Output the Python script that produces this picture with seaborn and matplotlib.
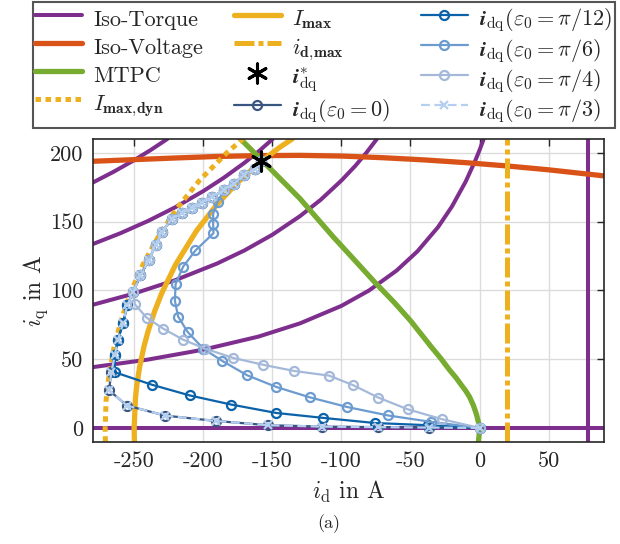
import numpy as np
import pandas as pd
import matplotlib
matplotlib.use('Agg')
import matplotlib.pyplot as plt
import seaborn as sns

# ---- data (id, iq in A) ----
# iso-torque curves
tq1_id = [-280, -240, -200, -160, -130, -100, -80, -60, -45, -30, -20, -10, -3, 0, 3]
tq1_iq = [44.2, 49.7, 56.9, 66.4, 76.0, 88.7, 99.9, 114.4, 128.3, 146.0, 160.9, 179.1, 194.5, 201.9, 210]
tq2_id = [-280, -250, -220, -190, -170, -150, -130, -115, -100, -90, -82, -74.3]
tq2_iq = [89.5, 97.7, 107.5, 119.5, 129.1, 140.4, 153.9, 165.8, 179.8, 190.4, 199.9, 210]
tq3_id = [-280, -260, -240, -220, -200, -185, -170, -160, -149.7]
tq3_iq = [133.6, 141.5, 150.4, 160.5, 172.1, 181.9, 192.8, 200.9, 210]
tq4_id = [-280, -265, -250, -238, -226]
tq4_iq = [178.3, 186.1, 194.6, 202.0, 210]
tq0_id = [-280, 90]
tq0_iq = [0, 0]
tq0v_id = [78.4, 78.4]
tq0v_iq = [-10, 210]

# iso-voltage
uv_id = [-280, -250, -220, -190, -160, -130, -100, -70, -40, -10, 20, 50, 90]
uv_iq = [193.8, 195.0, 196.2, 197.3, 197.9, 198.1, 197.6, 196.4, 194.8, 192.8, 190.4, 187.6, 183.2]

# MTPC
mtpc_id = [-174, -158, -130, -106, -90, -75, -62, -50, -35, -28, -21.6, -17, -13, -10, -7.2, -4.5,
           -2.4, -1, 0, -0.3, -0.8]
mtpc_iq = [211, 195, 166.7, 139, 121.5, 105, 91.5, 78, 59, 50.5, 42, 36.5, 31, 27, 22.5, 16.5,
           10.5, 5, 0, -5, -10]

# current limits
imax_id = [-249.8, -250, -249, -248, -246, -243, -240, -235, -230, -220, -205, -190, -175, -160, -145, -135.5]
imax_iq = [-10, 0, 22.3, 31.6, 44.5, 58.7, 70, 85.3, 98, 118.7, 143.1, 162.5, 178.5, 192.1, 203.7, 210.1]
idyn_id = [-270.8, -271, -270.3, -268, -264.3, -258.9, -251.9, -243, -232, -218.7, -202.6, -182.9, -171.3]
idyn_iq = [-10, 0, 20, 40, 60, 80, 100, 120, 140, 160, 180, 200, 210]
idmax_id = [19.7, 19.7]
idmax_iq = [-10, 210]

# reference point
ref_id = [-158]
ref_iq = [193.8]

# trajectories
up_id = [-264, -261.7, -257.9, -255, -250.7, -245.4, -239.4, -234.5, -229.8, -222.6,
         -215, -208, -200.9, -193.4, -185, -177.9, -170.7, -162.2, -158]
up_iq = [52.8, 64.2, 76.3, 89.2, 98.8, 111, 121.9, 132.8, 142.4, 152.2,
         156.5, 159.8, 163.5, 167.9, 172.7, 177.6, 183.6, 188.5, 193.8]
e0_id = [0, -36.8, -73.8, -113.7, -153, -191, -227.6, -255.2, -268.2, -266.5]
e0_iq = [0, 0.3, 0.6, 1.0, 2.0, 5.1, 9.0, 16.3, 27.4, 40.5]
e12_id = [0, -37, -75.7, -113, -147.1, -179.7, -209.6, -237.4, -264]
e12_iq = [0, 2.0, 3.6, 7.3, 10.9, 17.0, 23.6, 31.5, 40.5]
e6_id = [0, -34.8, -66.3, -96.1, -123, -147.1, -168.2, -186.2, -200, -211.3, -218.2, -220.5,
         -220, -214.5, -205.6, -192.6, -192.8, -192.8, -189.5, -185, -177.9, -170.7, -162.2, -158]
e6_iq = [0, 4.4, 9.1, 15.3, 22.3, 29.8, 38.3, 48.7, 57.7, 69.8, 81, 92.5,
         104.5, 117.3, 129, 141.5, 148.5, 155.8, 164.5, 172.7, 177.6, 183.6, 188.5, 193.8]
e4_id = [0, -26.9, -52.1, -73.3, -91.3, -108.7, -134.1, -157, -178.3, -198.8, -214.6, -229, -241, -249.5]
e4_iq = [0, 6.3, 13.6, 22.1, 31, 38, 41.4, 46, 50.9, 57.7, 64.2, 72.2, 80.2, 89.9]
e3_id = [0, -36.8, -73.8, -113.7, -153, -191, -227.6, -255.2, -268.2, -266.5]
e3_iq = [0, 0.3, 0.6, 1.0, 2.0, 5.1, 9.0, 16.3, 27.4, 40.5]

x_ticks = [-250, -200, -150, -100, -50, 0, 50]
x_labels = ['-250', '-200', '-150', '-100', '-50', '0', '50']
y_ticks = [0, 50, 100, 150, 200]
y_labels = ['0', '50', '100', '150', '200']

# ---- style ----
sns.set_style('whitegrid')
plt.rcParams['font.family'] = 'serif'
plt.rcParams['font.serif'] = ['cmr10', 'DejaVu Serif']
plt.rcParams['mathtext.fontset'] = 'cm'
plt.rcParams['axes.unicode_minus'] = False
plt.rcParams['axes.formatter.use_mathtext'] = True

purple = '#7E2F8E'
orange = '#D95319'
green = '#77AC30'
yellow = '#EDB120'
c_e0 = '#38567F'
c_e12 = '#0B62A8'
c_e6 = '#6C9BCF'
c_e4 = '#A4B9D9'
c_e3 = '#B5CFF0'

fig = plt.figure(figsize=(6.2, 5.44), dpi=100)
ax = fig.add_axes([0.1495, 0.188, 0.8245, 0.5565])


def line(x, y, **kw):
    sns.lineplot(x=x, y=y, sort=False, estimator=None, ax=ax, **kw)


lab_dyn = r'$I_{\mathbf{max,\!dyn}}$'
lab_max = r'$I_{\mathbf{max}}$'
lab_idm = r'$i_{\mathbf{d,\!max}}$'
lab_ref = r'$\mathbfit{i}_{\mathrm{dq}}^{*}$'
lab_e = [r'$\mathbfit{i}_{\mathrm{dq}}(\varepsilon_0 = 0)$',
         r'$\mathbfit{i}_{\mathrm{dq}}(\varepsilon_0 = \pi/12)$',
         r'$\mathbfit{i}_{\mathrm{dq}}(\varepsilon_0 = \pi/6)$',
         r'$\mathbfit{i}_{\mathrm{dq}}(\varepsilon_0 = \pi/4)$',
         r'$\mathbfit{i}_{\mathrm{dq}}(\varepsilon_0 = \pi/3)$']

# iso torque
line(tq0_id, tq0_iq, color=purple, lw=2.9, label='Iso-Torque')
for xs, ys in [(tq0v_id, tq0v_iq), (tq1_id, tq1_iq), (tq2_id, tq2_iq), (tq3_id, tq3_iq), (tq4_id, tq4_iq)]:
    line(xs, ys, color=purple, lw=2.9)
line(uv_id, uv_iq, color=orange, lw=3.8, label='Iso-Voltage')
line(mtpc_id, mtpc_iq, color=green, lw=3.8, label='MTPC')
line(idyn_id, idyn_iq, color=yellow, lw=3.6, label=lab_dyn, linestyle=(0, (1.1, 0.9)))
line(imax_id, imax_iq, color=yellow, lw=3.8, label=lab_max)
line(idmax_id, idmax_iq, color=yellow, lw=3.6, label=lab_idm, linestyle=(0, (4, 0.8, 1, 0.8)))

mk = dict(marker='o', markersize=6.5, markerfacecolor='none', markeredgewidth=1.6, lw=1.6)
line(e0_id + up_id, e0_iq + up_iq, color=c_e0, markeredgecolor=c_e0, label=lab_e[0], **mk)
line(e12_id + up_id, e12_iq + up_iq, color=c_e12, markeredgecolor=c_e12, label=lab_e[1], **mk)
line(e6_id, e6_iq, color=c_e6, markeredgecolor=c_e6, label=lab_e[2], **mk)
line(e4_id + up_id[4:], e4_iq + up_iq[4:], color=c_e4, markeredgecolor=c_e4, label=lab_e[3], **mk)
line(e3_id + up_id, e3_iq + up_iq, color=c_e3, markeredgecolor=c_e3, marker='x', markersize=6,
     markeredgewidth=1.6, lw=1.6, linestyle=(0, (4, 2)), label=lab_e[4])

sns.scatterplot(x=ref_id, y=ref_iq, marker=(6, 2, 0), s=190, color='k', linewidth=2.2,
                edgecolor='k', ax=ax, zorder=10, label=lab_ref)

ax.set_xlim(-280, 90)
ax.set_ylim(-10, 210)
ax.set_xticks(x_ticks)
ax.set_xticklabels(x_labels)
ax.set_yticks(y_ticks)
ax.set_yticklabels(y_labels)
ax.tick_params(direction='in', top=True, right=True, length=5, width=1, labelsize=16,
               color='#262626', pad=7)
ax.grid(True, color='#DCDCDC', lw=1)
for s in ax.spines.values():
    s.set_color('#262626')
    s.set_linewidth(1.2)
ax.set_xlabel(r'$i_{\mathrm{d}}$ in A', fontsize=17, labelpad=6)
ax.set_ylabel(r'$i_{\mathrm{q}}$ in A', fontsize=17, labelpad=0)

handles, labels = ax.get_legend_handles_labels()
ax.get_legend().remove()
lut = dict(zip(labels, handles))
order = ['Iso-Torque', 'Iso-Voltage', 'MTPC', lab_dyn,
         lab_max, lab_idm, lab_ref, lab_e[0]] + lab_e[1:]
leg = fig.legend([lut[k] for k in order], order, ncol=3, loc='upper center',
                 bbox_to_anchor=(0.522, 0.997), borderaxespad=0, fontsize=16, frameon=True,
                 fancybox=False, framealpha=1, edgecolor='#555555', handlelength=2.1,
                 handleheight=1.57, handletextpad=0.5, columnspacing=1.4, labelspacing=0.0,
                 borderpad=0.12)
leg.get_frame().set_linewidth(1.5)

fig.text(0.53, 0.03, '(a)', fontsize=13, ha='center')

fig.savefig('out.png', dpi=100)
